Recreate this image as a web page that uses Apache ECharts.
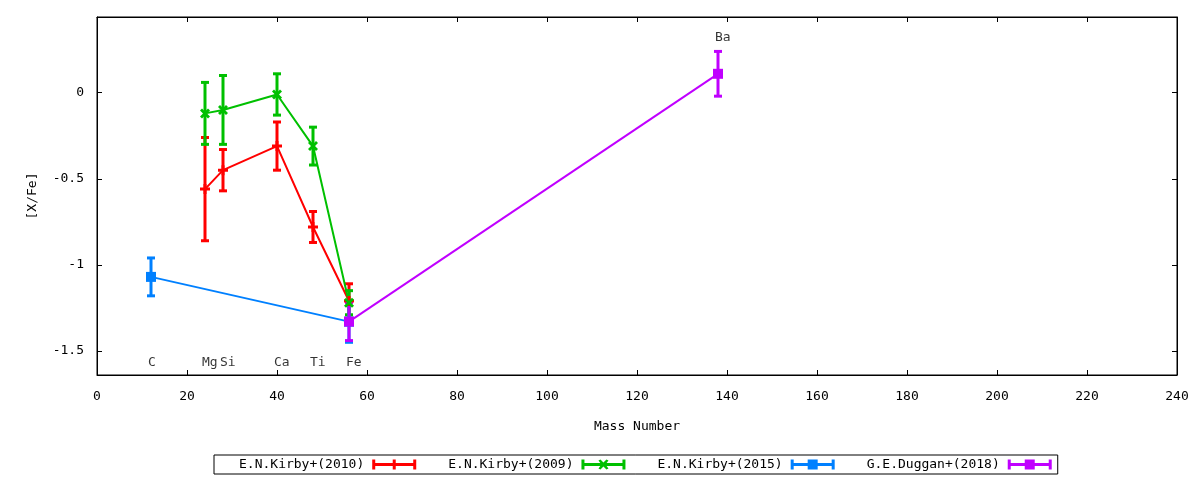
<!DOCTYPE html>
<html>
<head>
<meta charset="utf-8">
<script src="https://cdn.jsdelivr.net/npm/echarts@6/dist/echarts.min.js"></script>
<style>html,body{margin:0;padding:0;background:#fff;}#c{width:1200px;height:480px;}</style>
</head>
<body>
<div id="c"></div>
<script>
// ---- data ----
var seriesNames = ['E.N.Kirby+(2010)', 'E.N.Kirby+(2009)', 'E.N.Kirby+(2015)', 'G.E.Duggan+(2018)'];
var kirby2010Mass = [24, 28, 40, 48, 56];
var kirby2010Val  = [-0.56, -0.45, -0.31, -0.78, -1.21];
var kirby2010Err  = [0.30, 0.12, 0.14, 0.09, 0.10];
var kirby2009Mass = [24, 28, 40, 48, 56];
var kirby2009Val  = [-0.12, -0.10, -0.01, -0.31, -1.22];
var kirby2009Err  = [0.18, 0.20, 0.12, 0.11, 0.07];
var kirby2015Mass = [12, 56];
var kirby2015Val  = [-1.07, -1.33];
var kirby2015Err  = [0.11, 0.12];
var duggan2018Mass = [56, 138];
var duggan2018Val  = [-1.33, 0.11];
var duggan2018Err  = [0.11, 0.13];
var elementNames = ['C', 'Mg', 'Si', 'Ca', 'Ti', 'Fe', 'Ba'];
var elementMass  = [12, 24, 28, 40, 48, 56, 138];
var elementLabelY = [-1.57, -1.57, -1.57, -1.57, -1.57, -1.57, 0.32];
var xTicks = [0, 240, 20];
var yRange = [-1.64, 0.44];

// ---- build ----
var FONT = 'DejaVu Sans Mono';
var colors = ['#ff0000', '#00c000', '#0080ff', '#c000ff'];
var plusPath = 'path://M3.5,0H6.5V10H3.5Z M0,3.5H10V6.5H0Z';
var crossPath = 'path://M0,2L2,0L5,3L8,0L10,2L7,5L10,8L8,10L5,7L2,10L0,8L3,5Z';
var symbols = [plusPath, crossPath, 'rect', 'rect'];
var symSizes = [10, 10, 10, 10];
var base = 'M0,3.5H44V6.5H0Z M0,0H3V10H0Z M41,0H44V10H41Z ';
var legendIcons = [
  'path://' + base + 'M20.5,0H23.5V10H20.5Z',
  'path://' + base + 'M17,1L19,0L22,3L25,0L27,1L24,5L27,9L25,10L22,7L19,10L17,9L20,5Z',
  'path://' + base + 'M17,0H27V10H17Z',
  'path://' + base + 'M17,0H27V10H17Z'
];
var masses = [kirby2010Mass, kirby2009Mass, kirby2015Mass, duggan2018Mass];
var vals = [kirby2010Val, kirby2009Val, kirby2015Val, duggan2018Val];
var errs = [kirby2010Err, kirby2009Err, kirby2015Err, duggan2018Err];

function errRender(params, api) {
  var x = api.value(0), y = api.value(1), e = api.value(2);
  var p1 = api.coord([x, y + e]);
  var p2 = api.coord([x, y - e]);
  var col = api.visual('color');
  var st = {stroke: col, lineWidth: 3};
  var hw = 4;
  return {
    type: 'group',
    children: [
      {type: 'line', shape: {x1: p1[0], y1: p1[1], x2: p2[0], y2: p2[1]}, style: st},
      {type: 'line', shape: {x1: p1[0] - hw, y1: p1[1], x2: p1[0] + hw, y2: p1[1]}, style: st},
      {type: 'line', shape: {x1: p2[0] - hw, y1: p2[1], x2: p2[0] + hw, y2: p2[1]}, style: st}
    ]
  };
}

var series = [];
for (var i = 0; i < 4; i++) {
  var d = masses[i].map(function (m, k) { return [m, vals[i][k], errs[i][k]]; });
  series.push({
    name: seriesNames[i], type: 'custom', renderItem: errRender,
    data: d, color: colors[i], encode: {x: 0, y: 1}, silent: true, z: 2
  });
  series.push({
    name: seriesNames[i], type: 'line', data: d.map(function (p) { return [p[0], p[1]]; }),
    color: colors[i], symbol: symbols[i], symbolSize: symSizes[i], showAllSymbol: true,
    lineStyle: {width: 2, color: colors[i]}, itemStyle: {color: colors[i]},
    silent: true, animation: false, z: 2
  });
}
series.push({
  type: 'scatter', symbolSize: 0, silent: true, z: 5,
  data: elementNames.map(function (n, k) { return {name: n, value: [elementMass[k], elementLabelY[k]]}; }),
  label: {show: true, position: 'inside', align: 'left', offset: [-3, 0], formatter: '{b}',
          color: '#000', fontFamily: FONT, fontSize: 13}
});

var tickStyle = {show: true, inside: true, length: 5, lineStyle: {color: '#000', width: 1}};
var lineStyleAx = {show: true, onZero: false, lineStyle: {color: '#000', width: 1}};
var yFmt = function (v) { return Math.abs(v * 2 - Math.round(v * 2)) < 1e-6 ? String(Math.round(v * 10) / 10) : ''; };

var option = {
  animation: false,
  backgroundColor: '#fff',
  grid: {left: 97, top: 17, width: 1080, height: 358, show: true, borderColor: '#000', borderWidth: 1, backgroundColor: 'transparent'},
  xAxis: [{
    type: 'value', min: xTicks[0], max: xTicks[1], interval: xTicks[2],
    name: 'Mass Number', nameLocation: 'middle', nameGap: 45,
    nameTextStyle: {fontFamily: FONT, fontSize: 13, color: '#000'},
    axisLine: lineStyleAx, axisTick: tickStyle,
    axisLabel: {fontFamily: FONT, fontSize: 13, color: '#000', margin: 15},
    splitLine: {show: false}
  }, {
    type: 'value', position: 'top', min: xTicks[0], max: xTicks[1], interval: xTicks[2],
    axisLine: lineStyleAx, axisTick: tickStyle,
    axisLabel: {show: false}, splitLine: {show: false}
  }],
  yAxis: [{
    type: 'value', min: yRange[0], max: yRange[1], splitNumber: 4,
    name: '[X/Fe]', nameLocation: 'middle', nameGap: 58,
    nameTextStyle: {fontFamily: FONT, fontSize: 13, color: '#000'},
    axisLine: lineStyleAx, axisTick: tickStyle,
    axisLabel: {fontFamily: FONT, fontSize: 13, color: '#000', margin: 13, formatter: yFmt},
    splitLine: {show: false}
  }, {
    type: 'value', position: 'right', min: yRange[0], max: yRange[1], splitNumber: 4,
    axisLine: lineStyleAx, axisTick: tickStyle,
    axisLabel: {show: false}, splitLine: {show: false}
  }],
  legend: {
    left: 214, top: 455, align: 'right', orient: 'horizontal',
    itemWidth: 44, itemHeight: 10, itemGap: 32,
    padding: [3, 6, 3, 25],
    borderColor: '#000', borderWidth: 1, borderRadius: 0,
    selectedMode: false,
    textStyle: {fontFamily: FONT, fontSize: 13, color: '#000', padding: [0, 3, 0, 0]},
    data: seriesNames.map(function (n, k) { return {name: n, icon: legendIcons[k], itemStyle: {color: colors[k]}}; })
  },
  series: series
};
var chart = echarts.init(document.getElementById('c'), null, {renderer: 'canvas'});
chart.setOption(option);
</script>
</body>
</html>
